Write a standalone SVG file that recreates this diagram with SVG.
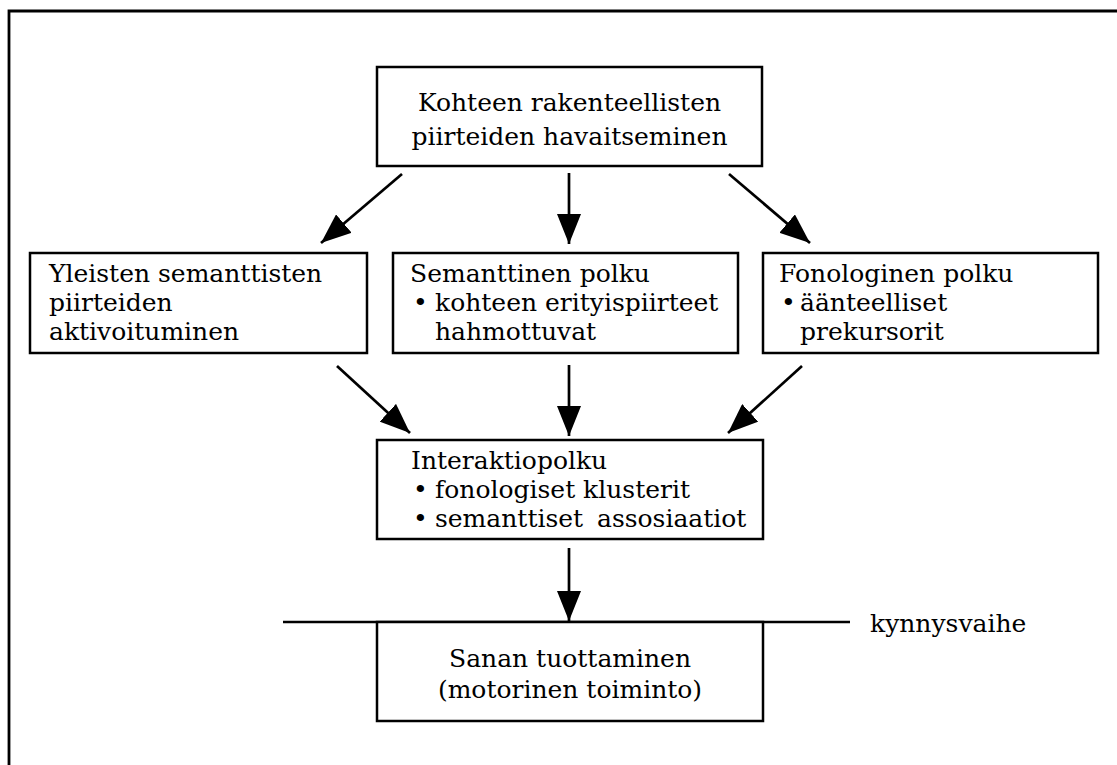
<svg xmlns="http://www.w3.org/2000/svg" width="1117" height="765" viewBox="0 0 1117 765">
  <style>
    .box { fill: #fff; stroke: #000; stroke-width: 2.5; }
    .t { font-family: "DejaVu Serif", "Liberation Serif", serif; font-size: 25px; fill: #000; }
    .c { text-anchor: middle; }
    .edge { stroke: #000; stroke-width: 2.7; fill: none; marker-end: url(#head); }
  </style>
  <defs>
    <marker id="head" markerUnits="userSpaceOnUse" markerWidth="30" markerHeight="24" viewBox="0 0 30 24" refX="30" refY="12" orient="auto">
      <path d="M0,0 L30,12 L0,24 Z" fill="#000"/>
    </marker>
  </defs>
  <rect width="1117" height="765" fill="#fff"/>

  <!-- page frame (top and left rule) -->
  <path d="M9,765 V11 H1117" fill="none" stroke="#000" stroke-width="2.8"/>

  <g id="connectors">
    <line class="edge" x1="402" y1="174" x2="321" y2="243"/>
    <line class="edge" x1="569" y1="173" x2="569" y2="244"/>
    <line class="edge" x1="729" y1="174" x2="810" y2="243"/>
    <line class="edge" x1="337" y1="366" x2="410" y2="433"/>
    <line class="edge" x1="569" y1="365" x2="569" y2="436"/>
    <line class="edge" x1="802" y1="366" x2="728" y2="433"/>
    <line class="edge" x1="569" y1="548" x2="569" y2="621"/>
  </g>

  <g id="node-perception">
    <rect class="box" x="377" y="67" width="385" height="99"/>
    <text class="t c" x="569.5" y="111">Kohteen rakenteellisten</text>
    <text class="t c" x="569.5" y="145">piirteiden havaitseminen</text>
  </g>

  <g id="node-general-semantic">
    <rect class="box" x="30" y="253" width="337" height="100"/>
    <text class="t" x="49" y="282">Yleisten semanttisten</text>
    <text class="t" x="49" y="311">piirteiden</text>
    <text class="t" x="49" y="340">aktivoituminen</text>
  </g>

  <g id="node-semantic-path">
    <rect class="box" x="393" y="253" width="345" height="100"/>
    <text class="t" x="410" y="282">Semanttinen polku</text>
    <text class="t" x="413" y="311">•</text>
    <text class="t" x="435" y="311">kohteen erityispiirteet</text>
    <text class="t" x="435" y="340">hahmottuvat</text>
  </g>

  <g id="node-phonological-path">
    <rect class="box" x="763" y="253" width="335" height="100"/>
    <text class="t" x="779" y="282">Fonologinen polku</text>
    <text class="t" x="781" y="311">•</text>
    <text class="t" x="800" y="311">äänteelliset</text>
    <text class="t" x="800" y="340">prekursorit</text>
  </g>

  <g id="node-interaction">
    <rect class="box" x="377" y="440" width="386" height="99"/>
    <text class="t" x="411" y="469">Interaktiopolku</text>
    <text class="t" x="413" y="498">•</text>
    <text class="t" x="435" y="498">fonologiset klusterit</text>
    <text class="t" x="413" y="527">•</text>
    <text class="t" y="527"><tspan x="435">semanttiset</tspan> <tspan x="597">assosiaatiot</tspan></text>
  </g>

  <g id="threshold">
    <line x1="283" y1="622" x2="850" y2="622" stroke="#000" stroke-width="2.7"/>
    <text class="t" x="870" y="632">kynnysvaihe</text>
  </g>

  <g id="node-production">
    <rect class="box" x="377" y="622" width="386" height="99"/>
    <text class="t c" x="570" y="667">Sanan tuottaminen</text>
    <text class="t c" x="570" y="698">(motorinen toiminto)</text>
  </g>
</svg>
